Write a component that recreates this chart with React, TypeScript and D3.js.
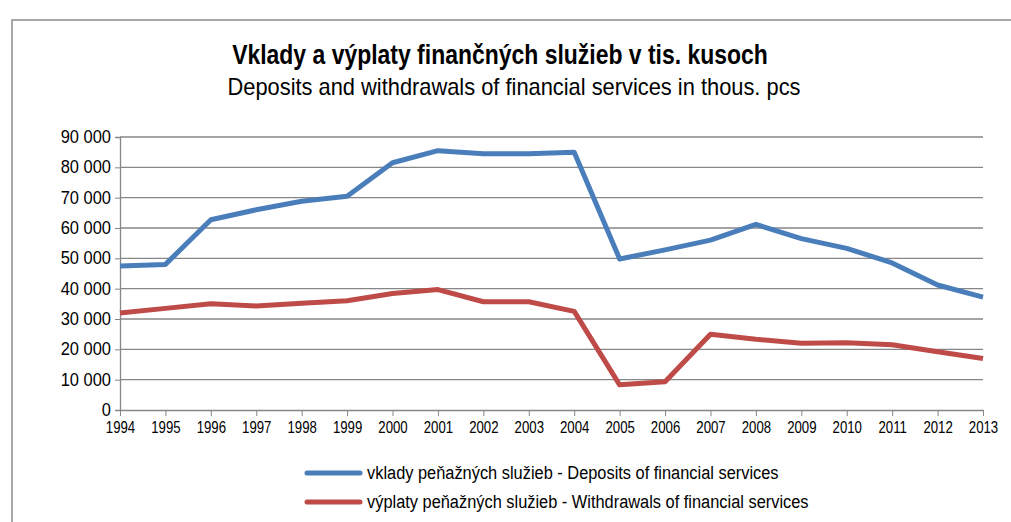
import React, { useEffect, useRef } from 'react';
import * as d3 from 'd3';

const years = d3.range(1994, 2014).map(String);
const deposits = [47500, 48000, 62700, 66000, 68800, 70500, 81500, 85500, 84500, 84500, 85000, 49800, 52800, 56000, 61200, 56500, 53300, 48500, 41200, 37200];
const withdrawals = [32000, 33500, 35000, 34300, 35200, 36000, 38400, 39700, 35700, 35700, 32500, 8300, 9300, 25000, 23300, 22000, 22200, 21500, 19200, 17000];
const yTicks = [0, 10000, 20000, 30000, 40000, 50000, 60000, 70000, 80000, 90000];
const seriesNames = [
  'vklady peňažných služieb - Deposits of financial services',
  'výplaty peňažných služieb - Withdrawals of financial services',
];
const colors = ['#4a7ebb', '#be4b48'];
const title = 'Vklady a výplaty finančných služieb v tis. kusoch';
const subtitle = 'Deposits and withdrawals of financial services in thous. pcs';

const FONT = '"Liberation Sans", Arial, sans-serif';

// squeeze text horizontally to look like a narrow face
const narrow = (sel: any, k: number) => {
  sel.each(function (this: SVGTextElement) {
    const len = this.getComputedTextLength();
    d3.select(this).attr('textLength', len * k).attr('lengthAdjust', 'spacingAndGlyphs');
  });
};

const App = () => {
  const svgRef = useRef<SVGSVGElement>(null);

  useEffect(() => {
    const W = 1011, H = 522;
    const svg = d3.select(svgRef.current).attr('width', W).attr('height', H);
    svg.selectAll('*').remove();

    const left = 120, right = 983, top = 137, bottom = 410;
    const x = d3.scalePoint().domain(years).range([left, right]);
    const y = d3.scaleLinear().domain([0, 90000]).range([bottom, top]);

    svg.append('rect').attr('width', W).attr('height', H).attr('fill', '#fff');
    // outer frame
    svg.append('rect')
      .attr('x', 12).attr('y', 20).attr('width', W + 20).attr('height', H + 20)
      .attr('fill', 'none').attr('stroke', '#8c8c8c').attr('stroke-width', 1.5);

    svg.append('text').attr('x', 500).attr('y', 64).attr('text-anchor', 'middle')
      .attr('font-family', FONT).attr('font-size', 27).attr('font-weight', 'bold')
      .text(title)
      .call(narrow, 0.85);
    svg.append('text').attr('x', 514).attr('y', 95).attr('text-anchor', 'middle')
      .attr('font-family', FONT).attr('font-size', 24)
      .text(subtitle)
      .call(narrow, 0.91);

    // gridlines
    svg.append('g').selectAll('line').data(yTicks.filter(d => d > 0)).join('line')
      .attr('x1', left).attr('x2', right)
      .attr('y1', d => y(d)).attr('y2', d => y(d))
      .attr('stroke', '#868686').attr('stroke-width', 1.3);

    // y axis
    const yAxis = svg.append('g').attr('transform', `translate(${left},0)`)
      .call(d3.axisLeft(y).tickValues(yTicks).tickSize(5).tickPadding(4)
        .tickFormat(d => d3.format(',')(d as number).replace(/,/g, ' ')));
    yAxis.select('.domain').attr('stroke', '#868686').attr('stroke-width', 1.3);
    yAxis.selectAll('.tick line').attr('stroke', '#868686');
    yAxis.selectAll('text').attr('font-family', FONT).attr('font-size', 17.5).attr('fill', '#000')
      .call(narrow, 0.94);

    // x axis
    const xAxis = svg.append('g').attr('transform', `translate(0,${bottom})`)
      .call(d3.axisBottom(x).tickSize(6).tickPadding(5).tickSizeOuter(0));
    xAxis.select('.domain').attr('stroke', '#868686').attr('stroke-width', 1.3);
    xAxis.selectAll('.tick line').attr('stroke', '#868686');
    xAxis.selectAll('text').attr('font-family', FONT).attr('font-size', 16.5).attr('fill', '#000')
      .call(narrow, 0.8);

    const line = d3.line<number>().x((_, i) => x(years[i]) as number).y(d => y(d));
    [deposits, withdrawals].forEach((s, i) => {
      svg.append('path').datum(s).attr('d', line)
        .attr('fill', 'none').attr('stroke', colors[i]).attr('stroke-width', 5)
        .attr('stroke-linejoin', 'round');
    });

    // legend
    const lg = svg.append('g');
    seriesNames.forEach((name, i) => {
      const ly = 473 + i * 29;
      lg.append('line').attr('x1', 307).attr('x2', 360).attr('y1', ly).attr('y2', ly)
        .attr('stroke', colors[i]).attr('stroke-width', 5).attr('stroke-linecap', 'round');
      lg.append('text').attr('x', 367).attr('y', ly + 6)
        .attr('font-family', FONT).attr('font-size', 18)
        .text(name)
        .call(narrow, 0.91);
    });
  }, []);

  return (
    <div style={{ position: 'absolute', left: 0, top: 0 }}>
      <svg ref={svgRef}></svg>
    </div>
  );
};

export default App;
